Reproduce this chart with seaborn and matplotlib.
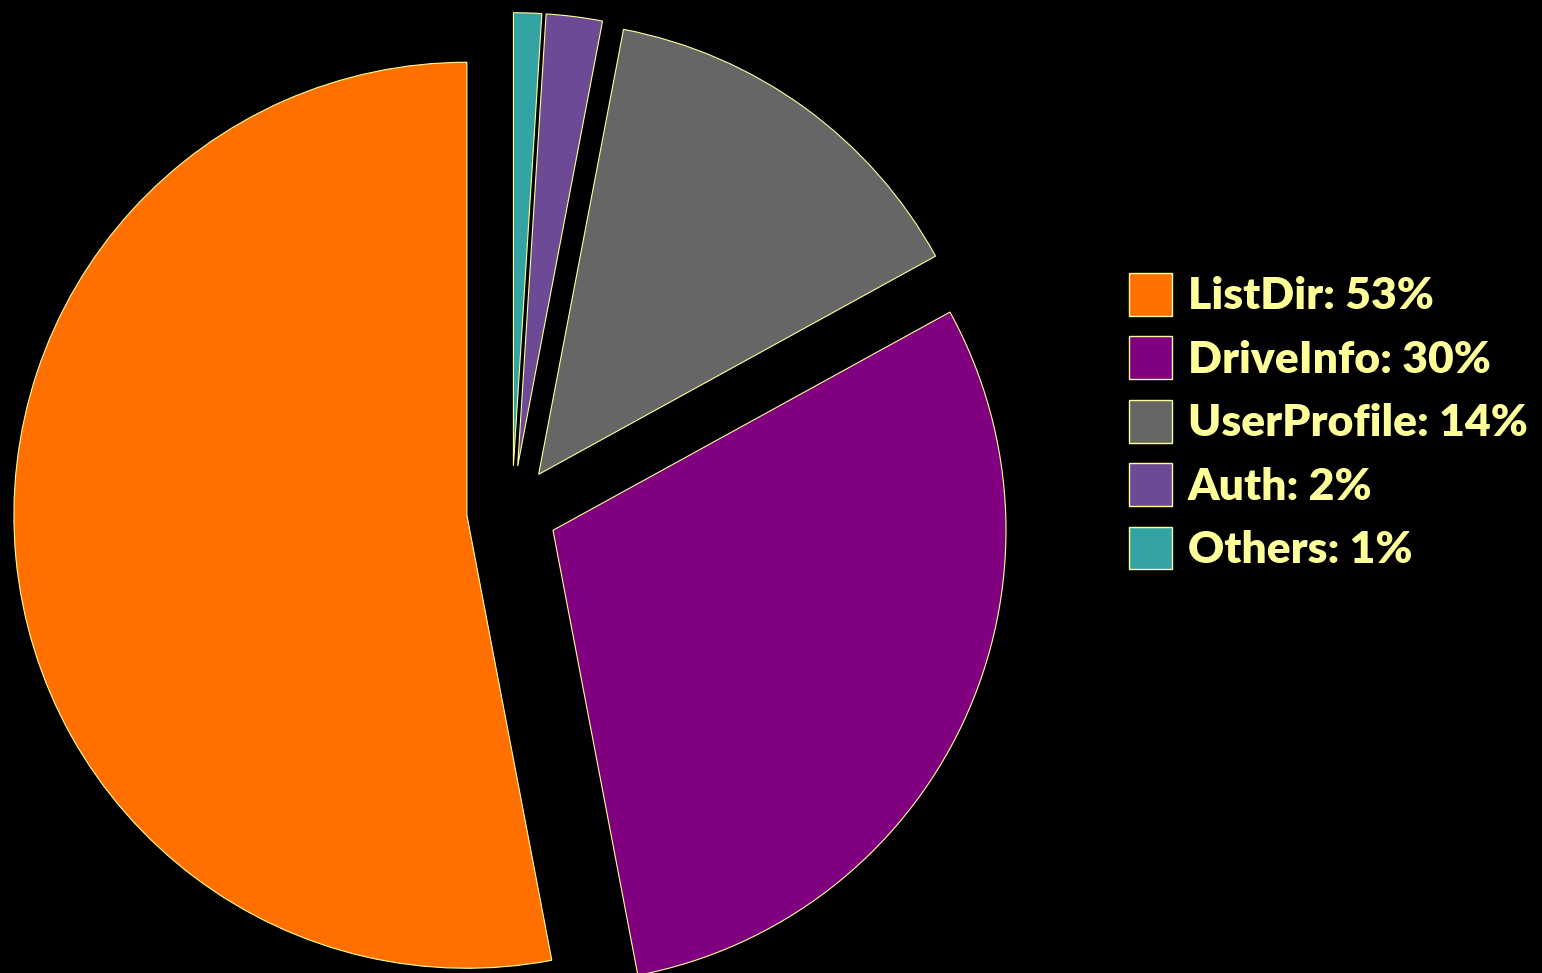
import matplotlib
matplotlib.use("Agg")
import matplotlib.pyplot as plt
import seaborn as sns

# Share of requests by operation
categories = ["ListDir", "DriveInfo", "UserProfile", "Auth", "Others"]
shares = [53, 30, 14, 2, 1]
colors = ["#FF7000", "#800080", "#666666", "#6C4A96", "#33A3A3"]

sns.set_theme(style="white")
plt.rcParams["font.family"] = ["Lato", "DejaVu Sans"]

text_color = "#FFFF99"
W, H, DPI = 1542, 973, 100
fig = plt.figure(figsize=(W / DPI, H / DPI), dpi=DPI, facecolor="black")
ax = fig.add_axes([0, 0, 1, 1])
ax.set_facecolor("black")

wedges, _ = ax.pie(
    shares,
    colors=colors,
    startangle=90,
    counterclock=True,
    explode=[0.1] * len(shares),
    radius=1.0,
    wedgeprops=dict(edgecolor=text_color, linewidth=0.8),
)

# one data unit = 453 px, pie centre at (512, 511) px from top-left
R = 453.0
cx, cy = 512.0, 511.0
ax.set_xlim(-cx / R, (W - cx) / R)
ax.set_ylim(-(H - cy) / R, cy / R)
ax.set_aspect("auto")
ax.axis("off")

labels = [f"{c}: {v}%" for c, v in zip(categories, shares)]
fs = 32
leg = fig.legend(
    wedges,
    labels,
    loc="upper left",
    bbox_to_anchor=(1129 / W, 1 - 273 / H),
    frameon=False,
    borderpad=0,
    borderaxespad=0,
    handlelength=0.97,
    handleheight=1.1,
    handletextpad=0.35,
    labelspacing=0.45,
    prop=dict(family=["Lato", "DejaVu Sans"], weight="heavy", size=fs),
    labelcolor=text_color,
)
for h in leg.legend_handles:
    h.set_edgecolor(text_color)
    h.set_linewidth(1.0)

fig.savefig("out.png", dpi=DPI, facecolor="black")
